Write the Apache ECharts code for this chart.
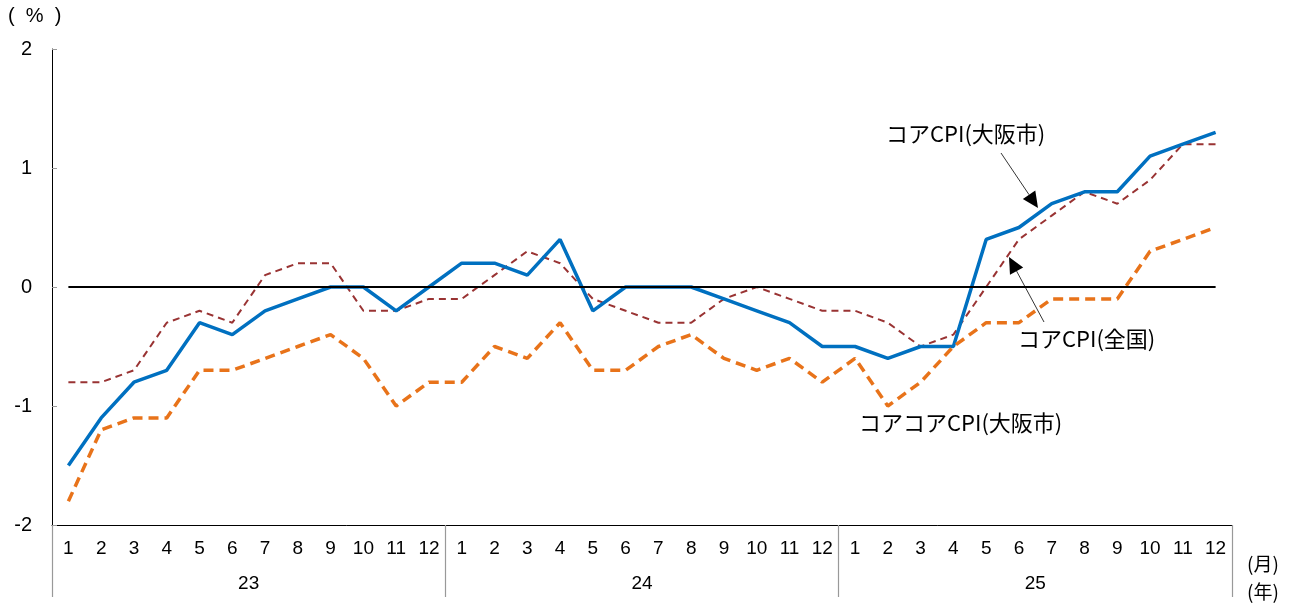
<!DOCTYPE html>
<html><head><meta charset="utf-8">
<script src="https://cdn.jsdelivr.net/npm/echarts@6/dist/echarts.min.js"></script>
<style>html,body{margin:0;padding:0;background:#fff}#c{width:1298px;height:606px}</style>
</head><body><div id="c"></div>
<script>
const months = ['1','2','3','4','5','6','7','8','9','10','11','12','1','2','3','4','5','6','7','8','9','10','11','12','1','2','3','4','5','6','7','8','9','10','11','12'];
const years = ['23','24','25'];
const coreOsaka = [-1.5,-1.1,-0.8,-0.7,-0.3,-0.4,-0.2,-0.1,0.0,0.0,-0.2,0.0,
                   0.2,0.2,0.1,0.4,-0.2,0.0,0.0,0.0,-0.1,-0.2,-0.3,-0.5,
                   -0.5,-0.6,-0.5,-0.5,0.4,0.5,0.7,0.8,0.8,1.1,1.2,1.3];
const coreNation = [-0.8,-0.8,-0.7,-0.3,-0.2,-0.3,0.1,0.2,0.2,-0.2,-0.2,-0.1,
                    -0.1,0.1,0.3,0.2,-0.1,-0.2,-0.3,-0.3,-0.1,0.0,-0.1,-0.2,
                    -0.2,-0.3,-0.5,-0.4,0.0,0.4,0.6,0.8,0.7,0.9,1.2,1.2];
const coreCoreOsaka = [-1.8,-1.2,-1.1,-1.1,-0.7,-0.7,-0.6,-0.5,-0.4,-0.6,-1.0,-0.8,
                       -0.8,-0.5,-0.6,-0.3,-0.7,-0.7,-0.5,-0.4,-0.6,-0.7,-0.6,-0.8,
                       -0.6,-1.0,-0.8,-0.5,-0.3,-0.3,-0.1,-0.1,-0.1,0.3,0.4,0.5];
const yTicks = [-2,-1,0,1,2];

const numFont = '"Liberation Sans", Arial, sans-serif';
const jpFont = '"Noto Sans CJK JP", sans-serif';

const chart = echarts.init(document.getElementById('c'), null, {renderer:'canvas'});

function arrow(x1,y1,x2,y2){
  const dx=x2-x1, dy=y2-y1, L=Math.hypot(dx,dy), ux=dx/L, uy=dy/L;
  const hl=16, hw=7.5;
  const bx=x2-ux*hl, by=y2-uy*hl;
  return [
    {type:'line', shape:{x1:x1,y1:y1,x2:bx,y2:by}, style:{stroke:'#000',lineWidth:0.8}, z:100},
    {type:'polygon', shape:{points:[[x2,y2],[bx-uy*hw,by+ux*hw],[bx+uy*hw,by-ux*hw]]}, style:{fill:'#000'}, z:100}
  ];
}

chart.setOption({
  animation:false,
  grid:{left:52,right:66,top:49,bottom:81,containLabel:false},
  xAxis:[
    {type:'category',data:months,boundaryGap:true,
     axisLine:{show:true,onZero:false,lineStyle:{color:'#000',width:1}},
     axisTick:{show:false},
     axisLabel:{interval:0,margin:14,color:'#000',fontFamily:numFont,fontSize:19}},
    {type:'category',data:years,boundaryGap:true,position:'bottom',
     axisLine:{show:false,onZero:false},
     axisTick:{show:true,interval:0,length:72,lineStyle:{color:'#999',width:1.2}},
     axisLabel:{interval:0,margin:49,color:'#000',fontFamily:numFont,fontSize:19}}
  ],
  yAxis:{type:'value',min:-2,max:2,interval:1,
    axisLine:{show:true,lineStyle:{color:'#000',width:1}},
    axisTick:{show:true,inside:true,length:5,lineStyle:{color:'#999'}},
    splitLine:{show:false},
    axisLabel:{margin:20,color:'#000',fontFamily:numFont,fontSize:20}},
  series:[
    {name:'コアCPI(全国)',type:'line',data:coreNation,symbol:'none',
     lineStyle:{color:'#993333',width:2,type:[7,5]}},
    {name:'コアCPI(大阪市)',type:'line',data:coreOsaka,symbol:'none',
     lineStyle:{color:'#0070C0',width:3.5}},
    {name:'コアコアCPI(大阪市)',type:'line',data:coreCoreOsaka,symbol:'none',
     lineStyle:{color:'#E8731A',width:3.5,type:[10,6]}}
  ]
});

const p0 = chart.convertToPixel({xAxisIndex:0,yAxisIndex:0},[0,0]);
const p1 = chart.convertToPixel({xAxisIndex:0,yAxisIndex:0},[months.length-1,0]);

chart.setOption({
  graphic:[
    {type:'line',shape:{x1:p0[0],y1:p0[1],x2:p1[0],y2:p1[1]},style:{stroke:'#000',lineWidth:2},z:50},
    {type:'text',left:8,top:6,style:{text:'(  %  )',font:'20px '+numFont,fill:'#000'}},
    {type:'text',left:1247,top:554,style:{text:'(月)',font:'19px '+jpFont,fill:'#000'}},
    {type:'text',left:1247,top:582,style:{text:'(年)',font:'19px '+jpFont,fill:'#000'}},
    {type:'text',left:886,top:123,style:{text:'コアCPI(大阪市)',font:'22px '+jpFont,fill:'#000'}},
    {type:'text',left:1018,top:328,style:{text:'コアCPI(全国)',font:'22px '+jpFont,fill:'#000'}},
    {type:'text',left:859,top:412,style:{text:'コアコアCPI(大阪市)',font:'22px '+jpFont,fill:'#000'}},
    ...arrow(1001,153,1038,208),
    ...arrow(1044,322,1009,257)
  ]
});
</script></body></html>
